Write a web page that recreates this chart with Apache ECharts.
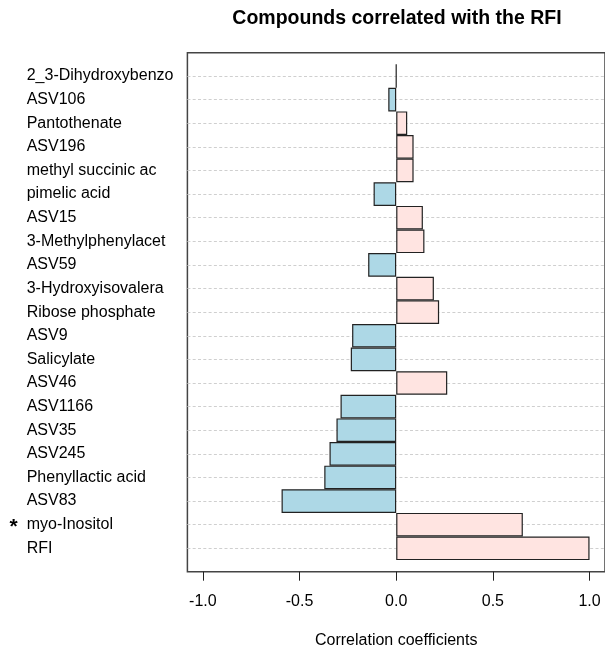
<!DOCTYPE html>
<html>
<head>
<meta charset="utf-8">
<script src="https://cdn.jsdelivr.net/npm/echarts@6/dist/echarts.min.js"></script>
<style>html,body{margin:0;padding:0;background:#fff}#chart{width:605px;height:655px}</style>
</head>
<body>
<div id="chart"></div>
<script>
const categories = ['2_3-Dihydroxybenzo','ASV106','Pantothenate','ASV196','methyl succinic ac','pimelic acid','ASV15','3-Methylphenylacet','ASV59','3-Hydroxyisovalera','Ribose phosphate','ASV9','Salicylate','ASV46','ASV1166','ASV35','ASV245','Phenyllactic acid','ASV83','myo-Inositol','RFI'];
const values = [0.0, -0.041, 0.057, 0.09, 0.09, -0.117, 0.138, 0.146, -0.145, 0.195, 0.222, -0.228, -0.235, 0.264, -0.288, -0.309, -0.345, -0.372, -0.593, 0.655, 1.0];
const significant = ['myo-Inositol'];
const xTicks = [-1.0, -0.5, 0.0, 0.5, 1.0];
const titleText = 'Compounds correlated with the RFI';
const xTitle = 'Correlation coefficients';

const FONT = "'Liberation Sans', Arial, sans-serif";
const chart = echarts.init(document.getElementById('chart'), null, {renderer: 'canvas'});
const gl = 187.4, gw = 418.1;
chart.setOption({
  animation: false,
  backgroundColor: '#fff',
  title: {
    text: titleText, left: 392, top: 4, textAlign: 'center',
    textStyle: {fontFamily: FONT, fontSize: 19.5, fontWeight: 'bold', color: '#000'}
  },
  grid: [
    {left: gl, width: gw, top: 52.7, height: 519, show: true, borderColor: '#444', borderWidth: 1.5, backgroundColor: 'transparent'},
    {left: gl, width: gw, top: 76, height: 472.3}
  ],
  xAxis: [
    {
      gridIndex: 0, type: 'value', min: -1.08, max: 1.08,
      axisLine: {show: false},
      splitLine: {show: false},
      axisTick: {show: true, customValues: xTicks, length: 9, lineStyle: {color: '#222', width: 1}},
      axisLabel: {customValues: xTicks, margin: 22, fontFamily: FONT, fontSize: 16, color: '#000', formatter: v => v.toFixed(1)},
      name: xTitle, nameLocation: 'middle', nameGap: 61,
      nameTextStyle: {fontFamily: FONT, fontSize: 16, color: '#000'}
    },
    {
      gridIndex: 1, type: 'value', min: -1.08, max: 1.08, show: false
    }
  ],
  yAxis: [
    {gridIndex: 0, type: 'value', show: false},
    {
      gridIndex: 1, type: 'category', data: categories, inverse: true, boundaryGap: false,
      axisLine: {show: false}, axisTick: {show: false},
      splitLine: {show: true, lineStyle: {color: '#cfcfcf', type: [3, 2.3], width: 1}},
      axisLabel: {
        align: 'left', margin: gl - 9.5,
        formatter: v => (significant.includes(v) ? '{s|*}' : '{s| }') + '{t|' + v + '}',
        rich: {
          s: {width: 17.2, fontFamily: FONT, fontSize: 21, fontWeight: 'bold', color: '#000', padding: [6, 0, 0, 0]},
          t: {fontFamily: FONT, fontSize: 16, color: '#000'}
        }
      }
    }
  ],
  series: [{
    type: 'bar', xAxisIndex: 1, yAxisIndex: 1,
    data: values, barCategoryGap: '0%', clip: false,
    itemStyle: {
      color: p => (p.value < 0 ? '#ADD8E6' : '#FFE4E1'),
      borderColor: '#222', borderWidth: 1.2
    }
  }]
});
</script>
</body>
</html>
